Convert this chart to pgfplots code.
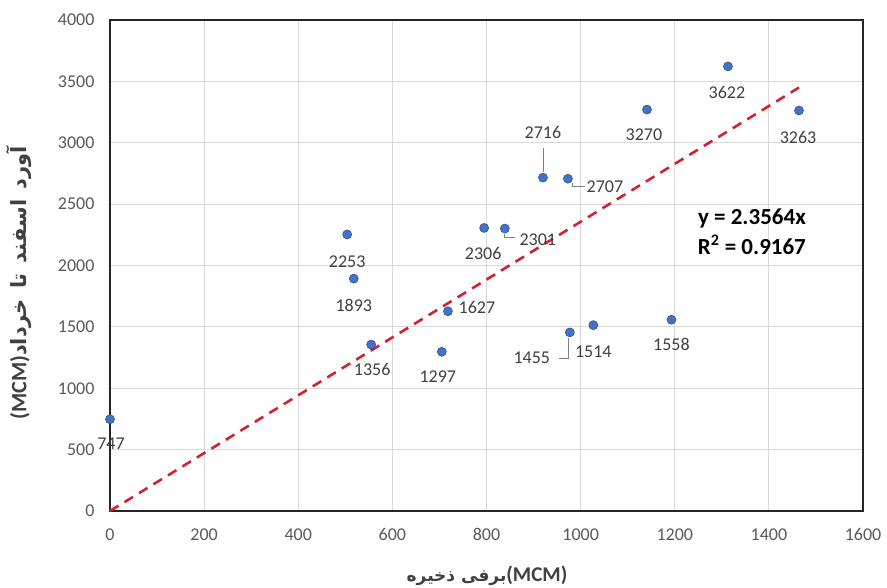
\documentclass[border=0pt]{standalone}
\usepackage{fontspec}
\setmainfont{Carlito}
\newfontfamily\arabicfont[Script=Arabic]{DejaVu Sans}
\TeXXeTstate=1
\usepackage{pgfplots}
\pgfplotsset{compat=1.18}
\definecolor{tickgray}{HTML}{595959}
\definecolor{labgray}{HTML}{404040}
\definecolor{gridgray}{HTML}{D9D9D9}
\definecolor{ptfill}{HTML}{4472C4}
\definecolor{ptedge}{HTML}{2F528F}
\definecolor{trend}{RGB}{205,35,50}
\definecolor{leader}{HTML}{7F7F7F}
\begin{document}
\begin{tikzpicture}
\useasboundingbox (0,0) rectangle (887pt,588pt);
\begin{axis}[
  at={(110pt,77pt)}, anchor=south west,
  scale only axis, width=753pt, height=491pt,
  xmin=0, xmax=1600, ymin=0, ymax=4000,
  xtick={0,200,...,1600}, ytick={0,500,...,4000},
  grid=major, major grid style={gridgray, line width=1pt},
  axis line style={black!85, line width=1.6pt},
  major tick length=0pt,
  tick label style={font=\fontsize{18}{20}\selectfont, text=tickgray},
  /pgf/number format/assume math mode=true,
  /pgf/number format/1000 sep={},
  xticklabel style={yshift=-14pt},
  yticklabel style={xshift=-12pt},
  clip=false,
]
\addplot[trend, line width=2.6pt, dash pattern=on 10pt off 7pt] coordinates {(0,0) (1464,3449.8)};
\addplot[only marks, mark=*, mark size=4.5pt,
  mark options={fill=ptfill, draw=ptedge, line width=0.6pt},
  nodes near coords, point meta=explicit symbolic,
  visualization depends on={\thisrow{dx}\as\dx},
  visualization depends on={\thisrow{dy}\as\dy},
  nodes near coords style={anchor=center, xshift=\dx*1pt, yshift=\dy*1pt,
    font=\fontsize{18}{20}\selectfont, text=labgray, inner sep=0pt}]
table[x=x, y=y, meta=lab] {
x    y    lab  dx   dy
0    747  747   1   -24
504  2253 2253  0   -27
518  1893 1893  0   -27
555  1356 1356  1   -25
705  1297 1297 -4   -25
718  1627 1627 29    4
795  2306 2306 -1   -26
839  2301 2301 33  -11
920  2716 2716  0   45
973  2707 2707 37   -8
977  1455 1455 -38  -25
1027 1514 1514  0   -27
1193 1558 1558  0   -25
1141 3270 3270 -3   -25
1313 3622 3622 -1   -26
1464 3263 3263 -1   -27
};
\draw[leader, line width=0.8pt] (axis cs:920,2716) ++(0,6pt) -- ++(0,24pt);
\draw[leader, line width=0.8pt] (axis cs:839,2301) ++(0,-5pt) -- ++(0,-4pt) -- ++(10pt,0);
\draw[leader, line width=0.8pt] (axis cs:973,2707) ++(4pt,-4pt) -- ++(0,-4pt) -- ++(13pt,0);
\draw[leader, line width=0.8pt] (axis cs:977,1455) ++(-1pt,-6pt) -- ++(0,-20pt) -- ++(-10pt,0);
\node[font=\bfseries\fontsize{23}{30}\selectfont, align=center, text=black]
  at (axis cs:1364,2273) {y = 2.3564x\\R\textsuperscript{2} = 0.9167};
\end{axis}
\node[rotate=90, text=labgray, inner sep=0pt] at (19pt,305pt)
  {\beginR{\arabicfont\bfseries\fontsize{21}{24}\selectfont آورد\hspace{10pt}اسفند\hspace{10pt}تا\hspace{10pt}خرداد}\beginL{\bfseries\fontsize{22}{24}\selectfont(MCM)}\endL\endR};
\node[text=labgray, inner sep=0pt] at (487pt,12pt)
  {\beginR\beginL{\bfseries\fontsize{21}{22}\selectfont(MCM)}\endL{\arabicfont\bfseries\fontsize{17}{22}\selectfont برفی ذخیره}\endR};
\end{tikzpicture}
\end{document}
